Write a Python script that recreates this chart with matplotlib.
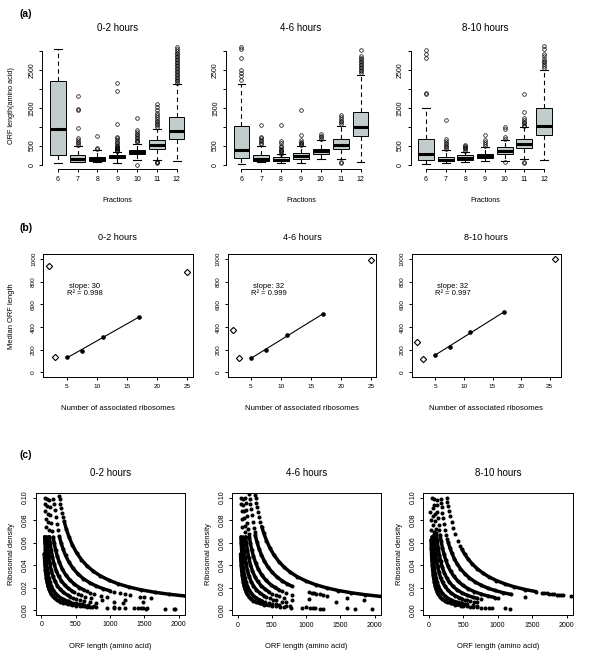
import numpy as np
import matplotlib.pyplot as plt

plt.rcParams['font.family'] = ['Liberation Sans', 'DejaVu Sans']

# ---- (a) box plots of ORF length per fraction ----
fractions = ['6', '7', '8', '9', '10', '11', '12']
hours = ['0-2 hours', '4-6 hours', '8-10 hours']

med_02 = [950, 140, 150, 205, 330, 505, 890]
q1_02 = [258, 80, 107, 170, 275, 405, 670]
q3_02 = [2216, 258, 196, 258, 392, 641, 1264]
lo_02 = [36, 62, 62, 40, 110, 120, 107]
hi_02 = [3060, 498, 374, 330, 552, 953, 2128]
fliers_02 = [
    [],
    [530, 560, 600, 640, 700, 960, 1440, 1480, 1800],
    [400, 440, 760],
    [350, 370, 390, 410, 430, 450, 470, 500, 530, 560, 600, 640, 690, 740, 1060, 1950, 2160],
    [0, 600, 630, 660, 700, 740, 780, 820, 870, 920, 1220],
    [40, 60, 80, 1000, 1040, 1080, 1120, 1160, 1200, 1250, 1300, 1350, 1440, 1520, 1600],
    [2160, 2200, 2240, 2280, 2320, 2360, 2400, 2440, 2480, 2520, 2560, 2600, 2640,
     2680, 2720, 2760, 2800, 2840, 2880, 2920, 2960, 3000, 3050, 3100],
]

med_46 = [392, 151, 133, 214, 347, 525, 997]
q1_46 = [178, 107, 89, 151, 267, 418, 748]
q3_46 = [1024, 258, 196, 303, 418, 668, 1398]
lo_46 = [18, 62, 45, 45, 134, 134, 80]
hi_46 = [2128, 490, 267, 490, 641, 1024, 2377]
fliers_46 = [
    [2244, 2333, 2422, 2493, 2823, 3045, 3117],
    [540, 580, 620, 660, 700, 730, 1040],
    [290, 320, 350, 380, 420, 460, 500, 560, 620, 1040],
    [510, 540, 570, 600, 640, 780, 1440],
    [680, 720, 760, 800],
    [30, 60, 1080, 1120, 1160, 1200, 1250, 1300],
    [2420, 2460, 2500, 2540, 2580, 2620, 2660, 2700, 2740, 2780, 2820, 2860, 3030],
]

med_810 = [285, 133, 178, 231, 356, 552, 1024]
q1_810 = [125, 89, 125, 178, 285, 445, 775]
q3_810 = [686, 196, 240, 285, 463, 686, 1487]
lo_810 = [18, 36, 62, 89, 107, 134, 125]
hi_810 = [1487, 374, 330, 463, 641, 997, 2493]
fliers_810 = [
    [1861, 1888, 2823, 2912, 3028],
    [420, 460, 500, 540, 580, 630, 680, 1180],
    [370, 400, 430, 460, 500, 530],
    [500, 540, 600, 640, 780],
    [60, 680, 720, 940, 980],
    [50, 70, 1010, 1050, 1090, 1130, 1170, 1220, 1400, 1860],
    [2550, 2600, 2650, 2700, 2750, 2800, 2860, 2920, 3050, 3134],
]

# ---- (b) median ORF length vs number of ribosomes ----
rib_b_02 = [2, 3, 5, 7.5, 11, 17, 25]
rib_b_46 = [2, 3, 5, 7.5, 11, 17, 25]
rib_b_810 = [1.8, 2.85, 5, 7.5, 11, 17, 26]
med_b_02 = [941, 133, 133, 192, 311, 488, 882]
med_b_46 = [375, 125, 128, 199, 326, 516, 988]
med_b_810 = [271, 117, 157, 224, 353, 531, 1000]
slope_txt = ['30', '32', '32']
r2_txt = ['0.998', '0.999', '0.997']

# ---- (c) ribosomal density = ribosomes / ORF length ----
ribosomes_c = [2, 3, 5, 7.5, 11, 17, 26]

dense_02 = [
    [40, 45, 50, 56, 63, 70, 80, 92, 105, 120, 140, 165, 195, 230, 270, 320, 380, 440, 500],
    [46, 50, 56, 63, 70, 80, 92, 105, 120, 140, 165, 195, 230, 270, 320, 380],
    [77, 85, 95, 105, 120, 140, 165, 195, 230, 270, 320, 380, 420],
    [115, 125, 140, 160, 185, 215, 250, 290, 340, 390, 440],
    [170, 185, 205, 230, 260, 300, 350, 410, 480, 550, 620],
    [260, 285, 315, 350, 400, 460, 530, 610, 700, 800, 900, 1000],
    [330, 360, 400, 450, 510, 580, 660, 750, 850, 980, 1120, 1280, 1450, 1650, 1850, 2100],
]
sparse_02 = [
    [560, 600, 640, 660, 700, 740, 790, 960, 1060, 1130, 1210, 1340, 1400, 1480, 1520, 1800, 1930, 1950],
    [420, 460, 500, 540, 590, 620, 680, 760, 1050, 1450, 1540],
    [50, 53, 57, 62, 68, 460, 500, 560, 620, 700, 790],
    [76, 81, 88, 96, 106, 480, 530, 580, 640, 720, 880, 1060, 1180],
    [112, 120, 130, 142, 156, 660, 710, 770, 860, 950, 1210, 1480],
    [172, 180, 192, 205, 222, 240, 1060, 1150, 1210, 1290, 1440, 1500, 1600],
    [256, 264, 275, 288, 302, 316],
]

dense_46 = [
    [40, 45, 50, 56, 63, 70, 80, 92, 105, 120, 140, 165, 195, 230, 270, 320, 380, 450],
    [46, 50, 56, 63, 70, 80, 92, 105, 120, 140, 165, 195, 230, 270, 310, 350],
    [77, 85, 95, 105, 120, 140, 165, 195, 230, 270, 320, 380],
    [115, 125, 140, 160, 185, 215, 250, 290, 340, 400, 450],
    [170, 185, 205, 230, 260, 300, 350, 410, 480, 540, 600],
    [255, 280, 310, 345, 390, 440, 500, 570, 650, 720, 790],
    [350, 380, 420, 470, 530, 600, 680, 770, 870, 1000, 1140, 1300, 1470, 1660, 1860, 2100],
]
sparse_46 = [
    [500, 560, 620, 680, 780, 940, 1050, 1100, 1130, 1200, 1250, 1720, 1960],
    [400, 450, 500, 560, 600, 700, 760, 1000, 1600],
    [50, 53, 57, 62, 68, 420, 470, 520, 560, 650, 700],
    [76, 80, 85, 92, 100, 108, 500, 560, 600, 680, 790],
    [110, 116, 124, 132, 142, 152, 162, 650, 700, 790, 1040, 1430],
    [165, 172, 180, 190, 202, 216, 232, 246, 1040, 1080, 1110, 1150, 1200, 1250, 1300, 1600, 1840],
    [255, 262, 272, 284, 298, 314, 332],
]

dense_810 = [
    [32, 36, 40, 45, 50, 56, 63, 70, 80, 92, 105, 120, 140, 165, 195, 230, 270, 320, 380, 470],
    [46, 50, 56, 63, 70, 80, 92, 105, 120, 140, 165, 195, 230, 270, 320, 380, 470],
    [75, 82, 90, 100, 112, 128, 148, 172, 200, 235, 275, 320, 380, 440, 480],
    [110, 120, 135, 152, 172, 196, 225, 260, 300, 350, 410, 480, 560, 640, 700],
    [165, 180, 198, 220, 246, 278, 316, 360, 420, 490, 570, 660, 760, 860, 960],
    [280, 305, 335, 370, 410, 460, 520, 590, 670, 760, 860, 960, 1080, 1200],
    [480, 520, 570, 630, 700, 780, 870, 980, 1100, 1240, 1400, 1560],
]
sparse_810 = [
    [23, 25, 28, 500, 550, 600, 640, 700, 760, 820, 880, 920, 1110, 1180],
    [480, 520, 560, 640, 700],
    [50, 55, 60, 66, 72, 520, 560, 600, 660, 700],
    [76, 80, 88, 95, 104, 760],
    [112, 118, 126, 135, 145, 155, 1000],
    [172, 178, 186, 196, 208, 222, 238, 255, 270, 1390],
    [262, 270, 282, 296, 312, 332, 356, 385, 420, 455, 1640, 1680, 1720, 1750, 1790,
     1820, 1860, 1890, 1920, 1950, 2070],
]

W, H = 600, 669
fig = plt.figure(figsize=(W / 100, H / 100), dpi=100)


def px_axes(x0, y0, x1, y1):
    return fig.add_axes([x0 / W, 1 - y1 / H, (x1 - x0) / W, (y1 - y0) / H])


def px_text(x, y, s, **kw):
    fig.text(x / W, 1 - y / H, s, ha='center', va='center', **kw)


def style_ticks(ax, size):
    ax.tick_params(direction='out', length=2.5, width=0.7, labelsize=size, pad=2.5)
    for lab in ax.get_yticklabels():
        lab.set_rotation(90)
        lab.set_va('center')


a_boxes = [(42.3, 41.4, 192, 169.3), (226, 41.4, 376, 169.3), (410.7, 41.4, 559.3, 169.3)]
b_boxes = [(43, 254.5, 192.5, 377), (227.5, 254.5, 376.5, 377), (411.5, 254.5, 561, 377)]
c_boxes = [(36, 493, 185, 614.5), (232.3, 493, 380.7, 615), (423.3, 493, 572.7, 615)]

box_data = [
    (med_02, q1_02, q3_02, lo_02, hi_02, fliers_02),
    (med_46, q1_46, q3_46, lo_46, hi_46, fliers_46),
    (med_810, q1_810, q3_810, lo_810, hi_810, fliers_810),
]
b_data = [(rib_b_02, med_b_02), (rib_b_46, med_b_46), (rib_b_810, med_b_810)]
c_data = [(dense_02, sparse_02), (dense_46, sparse_46), (dense_810, sparse_810)]

# (a)
for i, (bx, (med, q1, q3, lo, hi, fl)) in enumerate(zip(a_boxes, box_data)):
    ax = px_axes(*bx)
    stats = [dict(med=med[k], q1=q1[k], q3=q3[k], whislo=lo[k], whishi=hi[k], fliers=fl[k])
             for k in range(len(fractions))]
    ax.bxp(stats, positions=range(1, 8), widths=0.8, capwidths=0.4, patch_artist=True,
           boxprops=dict(facecolor='#c1cdcd', edgecolor='black', linewidth=0.7),
           medianprops=dict(color='black', linewidth=2.2),
           whiskerprops=dict(color='black', linewidth=0.8, linestyle=(0, (4, 3))),
           capprops=dict(color='black', linewidth=0.8),
           flierprops=dict(marker='o', markerfacecolor='none', markeredgecolor='black',
                           markersize=2.6, markeredgewidth=0.5))
    ax.set_xlim(0.22, 7.78)
    ax.set_ylim(-125, 3255)
    for s in ['top', 'right']:
        ax.spines[s].set_visible(False)
    ax.spines['left'].set_bounds(0, 3000)
    ax.spines['bottom'].set_bounds(1, 7)
    for s in ['left', 'bottom']:
        ax.spines[s].set_linewidth(0.7)
    ax.set_xticks(range(1, 8))
    ax.set_xticklabels(fractions)
    ax.set_yticks(range(0, 3001, 500))
    ax.set_yticklabels(['0', '500', '', '1500', '', '2500', ''])
    style_ticks(ax, 5)
    cx = (bx[0] + bx[2]) / 2
    px_text(cx, 28, hours[i], fontsize=7)
    px_text(cx, 200, 'Fractions', fontsize=5.2)
    if i == 0:
        px_text(12, 106, 'ORF length(amino acid)', fontsize=5.2, rotation=90)

# (b)
for i, (bx, (rib, med)) in enumerate(zip(b_boxes, b_data)):
    ax = px_axes(*bx)
    rib = np.array(rib)
    med = np.array(med)
    fit = np.polyfit(rib[2:6], med[2:6], 1)
    xs = np.array([rib[2], rib[5]])
    ax.plot(xs, np.polyval(fit, xs), color='black', lw=0.8)
    ax.plot(rib[2:6], med[2:6], 'o', color='black', ms=2.3)
    others = [0, 1, 6]
    ax.plot(rib[others], med[others], 'D', mfc='none', mec='black', ms=3.2, mew=0.8)
    ax.margins(x=0.04)
    ax.set_ylim(-40, 1040)
    ax.set_xticks([5, 10, 15, 20, 25])
    ax.set_yticks(range(0, 1001, 200))
    for s in ax.spines.values():
        s.set_linewidth(0.7)
    style_ticks(ax, 4.6)
    ax.text(8, 730, 'slope: ' + slope_txt[i] + '\nR² = ' + r2_txt[i], ha='center',
            va='center', fontsize=5.5, linespacing=0.95)
    cx = (bx[0] + bx[2]) / 2
    px_text(cx, 237, hours[i], fontsize=6.6)
    px_text(cx, 408, 'Number of associated ribosomes', fontsize=5.6)
    if i == 0:
        px_text(12, 316, 'Median ORF length', fontsize=5.4, rotation=90)

# (c)
for i, (bx, (dense, sparse)) in enumerate(zip(c_boxes, c_data)):
    ax = px_axes(*bx)
    for n, dl, sl in zip(ribosomes_c, dense, sparse):
        dl = np.array(dl, dtype=float)
        sl = np.array(sl, dtype=float)
        ax.plot(dl, n / dl, '-o', color='black', lw=2.5, ms=2.9, mew=0,
                solid_capstyle='round')
        ax.plot(sl, n / sl, 'o', color='black', ms=2.9, mew=0)
    ax.set_xlim(-80, 2090)
    ax.set_ylim(-0.004, 0.104)
    ax.set_xticks([0, 500, 1000, 1500, 2000])
    ax.set_yticks([0, 0.02, 0.04, 0.06, 0.08, 0.10])
    ax.set_yticklabels(['0.00', '0.02', '0.04', '0.06', '0.08', '0.10'])
    for s in ax.spines.values():
        s.set_linewidth(0.7)
    style_ticks(ax, 5)
    cx = (bx[0] + bx[2]) / 2
    px_text(cx, 473.5, hours[i], fontsize=7)
    px_text(cx, 646, 'ORF length (amino acid)', fontsize=5.4)
    px_text(bx[0] - 24, 554, 'Ribosomal density', fontsize=5.4, rotation=90)

px_text(26, 14, '(a)', fontsize=7.5, fontweight='bold')
px_text(26, 228, '(b)', fontsize=7.5, fontweight='bold')
px_text(26, 455, '(c)', fontsize=7.5, fontweight='bold')

fig.savefig('out.png', dpi=100)
